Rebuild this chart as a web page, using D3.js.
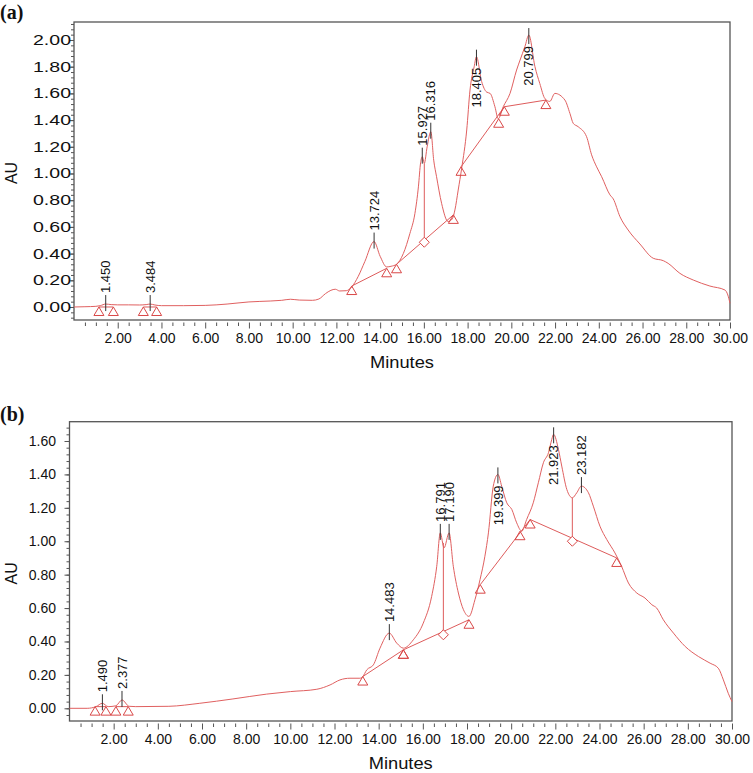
<!DOCTYPE html>
<html><head><meta charset="utf-8">
<script src="https://cdn.jsdelivr.net/npm/d3@7/dist/d3.min.js"></script>
<style>
body{margin:0;background:#fff}
svg{display:block;font-family:"Liberation Sans",Arial,sans-serif}
</style>
</head><body>
<svg id="chart" width="753" height="773"></svg>
<script>
// ---------------- DATA ----------------
const xMajorTicks = [2,4,6,8,10,12,14,16,18,20,22,24,26,28,30];
const xTickLabels = ["2.00","4.00","6.00","8.00","10.00","12.00","14.00","16.00","18.00","20.00","22.00","24.00","26.00","28.00","30.00"];
const yTickLabelsA = ["0.00","0.20","0.40","0.60","0.80","1.00","1.20","1.40","1.60","1.80","2.00"];
const yTickLabelsB = ["0.00","0.20","0.40","0.60","0.80","1.00","1.20","1.40","1.60"];

// Panel (a) chromatogram: time (min), absorbance (AU)
const timeA = [0.00,0.50,1.00,1.20,1.45,1.70,2.00,2.50,3.00,3.30,3.48,3.70,4.00,5.00,6.00,7.00,8.00,9.00,9.50,9.90,10.30,10.90,11.20,11.50,11.75,11.95,12.15,12.45,12.70,13.00,13.30,13.72,14.00,14.30,14.50,14.75,15.06,15.36,15.59,15.75,15.85,15.93,16.02,16.15,16.32,16.45,16.58,16.81,17.11,17.30,17.42,17.57,17.73,17.96,18.11,18.30,18.405,18.64,18.87,19.03,19.25,19.40,19.63,19.94,20.24,20.40,20.62,20.80,21.08,21.30,21.54,21.76,21.99,22.45,22.68,22.83,23.06,23.44,23.67,23.90,24.13,24.51,24.66,24.97,25.34,25.88,26.49,26.95,27.17,27.71,28.32,29.08,29.77,29.90,30.00];
const auA   = [0.000,0.002,0.005,0.010,0.022,0.018,0.016,0.016,0.015,0.018,0.022,0.015,0.010,0.010,0.012,0.022,0.038,0.045,0.050,0.058,0.052,0.050,0.060,0.100,0.125,0.133,0.120,0.122,0.150,0.230,0.340,0.490,0.380,0.300,0.305,0.320,0.400,0.550,0.700,0.900,1.080,1.126,1.076,1.200,1.313,1.100,0.976,0.777,0.640,0.660,0.727,0.876,1.040,1.326,1.625,1.800,1.875,1.690,1.610,1.600,1.500,1.410,1.500,1.600,1.775,1.850,1.950,2.037,1.800,1.675,1.560,1.540,1.600,1.550,1.450,1.376,1.350,1.276,1.140,1.050,0.976,0.840,0.810,0.676,0.577,0.472,0.365,0.347,0.327,0.252,0.202,0.157,0.127,0.090,0.028];

const peakLabelsA = ["1.450","3.484","13.724","15.927","16.316","18.405","20.799"];
const peakTimesA  = [1.450,3.484,13.724,15.927,16.316,18.405,20.799];
const peakAUA     = [0.022,0.022,0.490,1.126,1.313,1.875,2.037];
const peakSideA   = ["up","up","up","up","up","down","down"];

const triTimesA = [1.14,1.80,3.17,3.78,12.70,14.30,14.75,17.35,17.70,19.42,19.68,21.58];
const triAUA    = [0.000,0.000,0.000,0.000,0.157,0.290,0.320,0.690,1.050,1.410,1.500,1.550];
const diaTimesA = [16.02];
const diaAUA    = [0.485];
const dropTopA  = [1.076];
const baseSegsA = [[[1.14,0.000],[1.80,0.000]],[[3.17,0.000],[3.78,0.000]],[[12.70,0.157],[14.30,0.290]],[[14.75,0.320],[17.35,0.690]],[[17.70,1.050],[19.68,1.500]],[[19.68,1.500],[21.58,1.550]]];

// Panel (b) chromatogram
const timeB = [0.00,0.80,1.20,1.49,1.75,2.10,2.38,2.70,3.00,4.50,5.90,7.40,8.93,10.00,11.20,11.80,12.25,12.70,13.15,13.28,13.46,13.76,14.06,14.48,14.82,15.12,15.57,16.02,16.40,16.63,16.79,16.96,17.19,17.38,17.61,17.84,18.09,18.36,18.59,18.81,18.97,19.19,19.40,19.57,19.80,20.03,20.25,20.48,20.70,21.00,21.23,21.46,21.69,21.84,21.92,22.14,22.29,22.52,22.77,22.97,23.18,23.50,23.72,24.02,24.33,24.70,25.00,25.31,25.69,26.06,26.37,26.59,26.89,27.35,27.88,28.48,29.01,29.38,29.61,29.83,30.00];
const auB   = [0.000,0.000,0.010,0.030,0.010,0.015,0.050,0.012,0.010,0.012,0.030,0.056,0.085,0.100,0.114,0.140,0.170,0.180,0.180,0.190,0.230,0.260,0.360,0.450,0.390,0.360,0.410,0.510,0.670,0.850,1.050,0.960,1.050,0.850,0.690,0.590,0.550,0.650,0.770,0.910,1.050,1.330,1.400,1.330,1.230,1.190,1.110,1.060,1.130,1.230,1.350,1.470,1.530,1.610,1.640,1.550,1.450,1.310,1.260,1.290,1.330,1.290,1.210,1.090,1.010,0.930,0.850,0.750,0.690,0.660,0.620,0.600,0.530,0.450,0.370,0.310,0.270,0.240,0.170,0.090,0.040];

const peakLabelsB = ["1.490","2.377","14.483","16.791","17.190","19.399","21.923","23.182"];
const peakTimesB  = [1.490,2.377,14.483,16.791,17.190,19.399,21.923,23.182];
const peakAUB     = [0.030,0.050,0.450,1.050,1.050,1.400,1.640,1.330];
const peakSideB   = ["up","up","up","up","up","down","down","up"];

const triTimesB = [1.16,1.65,2.10,2.66,13.28,15.12,15.12,18.09,18.60,20.40,20.86,24.78];
const triAUB    = [0.010,0.010,0.010,0.010,0.190,0.350,0.350,0.530,0.740,1.060,1.130,0.900];
const diaTimesB = [16.93,22.77];
const diaAUB    = [0.440,1.000];
const dropTopB  = [0.990,1.260];
const baseSegsB = [[[1.16,0.010],[1.65,0.010]],[[2.10,0.010],[2.66,0.010]],[[13.28,0.190],[15.12,0.350]],[[15.12,0.350],[18.09,0.530]],[[18.60,0.740],[20.86,1.130]],[[20.86,1.130],[24.78,0.900]]];

// ---------------- DRAW ----------------
const svg = d3.select("#chart");
const RED = "#e06060", MARK = "#d94848", FRAME = "#555";

function panel(cfg){
  const g = svg.append("g");
  const x = d3.scaleLinear().domain([0,30]).range([cfg.left, cfg.right]);
  const y = d3.scaleLinear().domain(cfg.yDomain).range([cfg.bottom, cfg.top]);

  // panel letter
  svg.append("text").attr("x",0).attr("y",cfg.letterY)
    .attr("font-family","'Liberation Serif','Times New Roman',serif")
    .attr("font-weight","bold").attr("font-size",20).attr("fill","#111")
    .text(cfg.letter);

  // frame
  g.append("rect").attr("x",cfg.left).attr("y",cfg.top)
    .attr("width",cfg.right-cfg.left).attr("height",cfg.bottom-cfg.top)
    .attr("fill","none").attr("stroke",FRAME).attr("stroke-width",1.3);

  // y axis minor ticks
  const yMinor = d3.range(Math.ceil(cfg.yDomain[0]/0.04)*0.04, cfg.yDomain[1], 0.04).map(v=>+v.toFixed(2));
  const yAxMinor = g.append("g").attr("transform",`translate(${cfg.left},0)`)
    .call(d3.axisLeft(y).tickValues(yMinor).tickSize(3).tickFormat(""));
  yAxMinor.select(".domain").remove();
  yAxMinor.selectAll("line").attr("stroke",FRAME);
  const yMajorVals = cfg.yLabels.map(s=>+s);
  const yAx = g.append("g").attr("transform",`translate(${cfg.left},0)`)
    .call(d3.axisLeft(y).tickValues(yMajorVals).tickSize(cfg.yMajorSize).tickPadding(cfg.yPad)
      .tickFormat((d,i)=>cfg.yLabels[i]));
  yAx.select(".domain").remove();
  yAx.selectAll("line").attr("stroke",FRAME);
  yAx.selectAll("text").attr("font-size",14).attr("fill","#111")
    .attr("font-family","'Liberation Sans',Arial,sans-serif");
  if(cfg.yLabelWidth){
    yAx.selectAll("text").attr("textLength",cfg.yLabelWidth).attr("lengthAdjust","spacingAndGlyphs");
  }

  // x axis (ticks detached slightly below frame)
  const xMinor = d3.range(0.5,30.01,0.5).filter(v=>Math.abs(v/2-Math.round(v/2))>1e-6);
  const xAxMinor = g.append("g").attr("transform",`translate(0,${cfg.bottom+2.5})`)
    .call(d3.axisBottom(x).tickValues(xMinor).tickSize(3.5).tickFormat(""));
  xAxMinor.select(".domain").remove();
  xAxMinor.selectAll("line").attr("stroke",FRAME);
  const xAx = g.append("g").attr("transform",`translate(0,${cfg.bottom+2.5})`)
    .call(d3.axisBottom(x).tickValues(xMajorTicks).tickSize(6).tickPadding(4.5)
      .tickFormat((d,i)=>xTickLabels[i]));
  xAx.select(".domain").remove();
  xAx.selectAll("line").attr("stroke",FRAME);
  xAx.selectAll("text").attr("font-size",14).attr("fill","#111")
    .attr("font-family","'Liberation Sans',Arial,sans-serif");

  // axis titles
  g.append("text").attr("x",(cfg.left+cfg.right)/2).attr("y",cfg.bottom+48)
    .attr("text-anchor","middle").attr("font-size",17).attr("fill","#111")
    .attr("textLength",64).attr("lengthAdjust","spacingAndGlyphs").text("Minutes");
  g.append("text").attr("transform",`translate(${cfg.auX},${(cfg.top+cfg.bottom)/2+2}) rotate(-90)`)
    .attr("text-anchor","middle").attr("font-size",16).attr("fill","#111").text("AU");

  // baselines
  const line = d3.line().x(d=>x(d[0])).y(d=>y(d[1]));
  g.selectAll(".bl").data(cfg.baseSegs).enter().append("path")
    .attr("d",line).attr("fill","none").attr("stroke",MARK).attr("stroke-width",0.9);

  // drop lines
  g.selectAll(".drop").data(cfg.diaT).enter().append("line")
    .attr("x1",d=>x(d)).attr("x2",d=>x(d))
    .attr("y1",(d,i)=>y(cfg.diaV[i])).attr("y2",(d,i)=>y(cfg.dropTop[i]))
    .attr("stroke",MARK).attr("stroke-width",0.9);

  // curve
  const pts = cfg.t.map((t,i)=>[t,cfg.v[i]]);
  g.append("path").attr("d",d3.line().x(d=>x(d[0])).y(d=>y(d[1])).curve(d3.curveMonotoneX)(pts))
    .attr("fill","none").attr("stroke",RED).attr("stroke-width",1);

  // triangles (apex at point)
  g.selectAll(".tri").data(cfg.triT).enter().append("path")
    .attr("d",(d,i)=>{const px=x(d),py=y(cfg.triV[i]);return `M${px},${py}L${px-5},${py+8.5}L${px+5},${py+8.5}Z`;})
    .attr("fill","none").attr("stroke",MARK).attr("stroke-width",1);
  // diamonds
  g.selectAll(".dia").data(cfg.diaT).enter().append("path")
    .attr("d",(d,i)=>{const px=x(d),py=y(cfg.diaV[i]);return `M${px},${py-5}L${px+5},${py}L${px},${py+5}L${px-5},${py}Z`;})
    .attr("fill","#fff").attr("stroke",MARK).attr("stroke-width",1);

  // peak labels
  cfg.pk.forEach((lab,i)=>{
    const px=x(cfg.pkT[i]), py=y(cfg.pkV[i]);
    const up = cfg.pkS[i]==="up";
    g.append("line").attr("x1",px).attr("x2",px)
      .attr("y1", up? py-9 : py-7).attr("y2", up? py+7 : py+9)
      .attr("stroke","#333").attr("stroke-width",1);
    g.append("text")
      .attr("transform",`translate(${px},${up? py-11 : py+11}) rotate(-90)`)
      .attr("text-anchor", up? "start":"end").attr("dy","0.36em")
      .attr("font-size",13).attr("fill","#111").text(lab);
  });
}

panel({letter:"(a)",letterY:19,left:74,right:730,top:22,bottom:320,yDomain:[-0.0974,2.1348],
  yLabels:yTickLabelsA,yMajorSize:4,yPad:-1,yLabelWidth:38,auX:16.5,
  t:timeA,v:auA,pk:peakLabelsA,pkT:peakTimesA,pkV:peakAUA,pkS:peakSideA,
  triT:triTimesA,triV:triAUA,diaT:diaTimesA,diaV:diaAUA,dropTop:dropTopA,baseSegs:baseSegsA});
panel({letter:"(b)",letterY:421,left:69.5,right:732,top:421.7,bottom:721,yDomain:[-0.076,1.7155],
  yLabels:yTickLabelsB,yMajorSize:5,yPad:8.5,yLabelWidth:null,auX:17.3,
  t:timeB,v:auB,pk:peakLabelsB,pkT:peakTimesB,pkV:peakAUB,pkS:peakSideB,
  triT:triTimesB,triV:triAUB,diaT:diaTimesB,diaV:diaAUB,dropTop:dropTopB,baseSegs:baseSegsB});
</script>
</body></html>
